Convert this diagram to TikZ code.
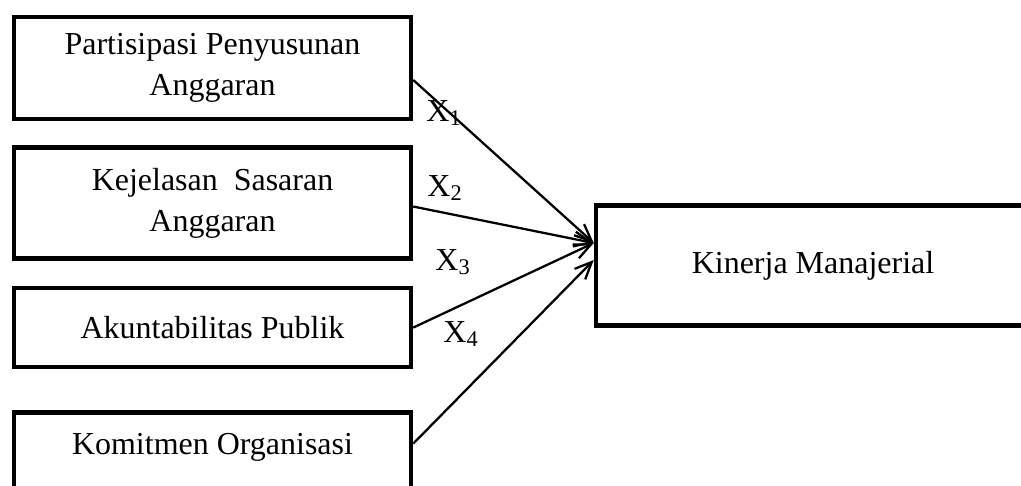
\documentclass[tikz,border=0pt]{standalone}
\usepackage{fontspec}
\setmainfont{Liberation Serif}
\usepackage{tikz}
\usetikzlibrary{arrows.meta,positioning}

\begin{document}
\begin{tikzpicture}[
  x=0.02cm,y=0.02cm,
  font=\fontsize{18.2}{23.5}\selectfont,
  var/.style={draw,line width=2.6pt,minimum width=7.94cm,align=center},
  dep/.style={draw,line width=2.6pt,minimum width=8.68cm,minimum height=2.4cm,align=center},
  arr/.style={-{Straight Barb[length=3.4mm,width=3mm]},line width=1.3pt},
  lbl/.style={inner sep=0pt}
]
\useasboundingbox (0,0) rectangle (1021,485);
\node[var,minimum height=2.04cm] (ppa) at (212.5,417) {Partisipasi Penyusunan\\Anggaran};
\node[var,minimum height=2.22cm,below=4.8mm of ppa] (ksa) {Kejelasan\ \ Sasaran\\Anggaran};
\node[var,minimum height=1.58cm,below=5mm of ksa] (ap) {Akuntabilitas Publik};
\node[var,minimum height=1.68cm,text height=3mm,text depth=3mm,below=8.2mm of ap] (ko) {Komitmen Organisasi};
\node[dep] (km) at (813,219.5) {Kinerja Manajerial};
% arrows into the dependent variable
\draw[arr] ([yshift=-2.4mm]ppa.east) -- ([yshift=4.5mm]km.west);
\draw[arr] ([yshift=-0.7mm]ksa.east) -- ([yshift=4.5mm]km.west);
\draw[arr] (ap.east) -- ([yshift=4.5mm]km.west);
\draw[arr] ([yshift=2.2mm]ko.east) -- ([yshift=1.1mm]km.west);
\node[lbl] (x1) at (444,372) {X\textsubscript{1}};
\node[lbl] (x2) at (445,297) {X\textsubscript{2}};
\node[lbl] (x3) at (453,223) {X\textsubscript{3}};
\node[lbl] (x4) at (461,151) {X\textsubscript{4}};
\end{tikzpicture}
\end{document}
